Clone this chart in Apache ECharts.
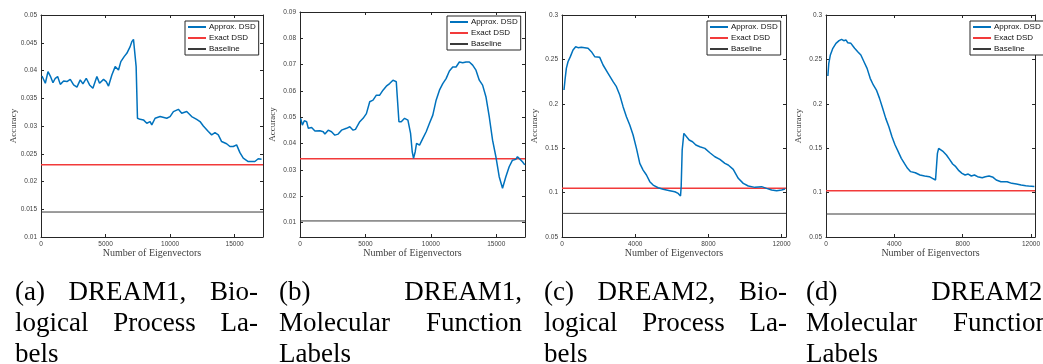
<!DOCTYPE html>
<html>
<head>
<meta charset="utf-8">
<script src="https://cdn.jsdelivr.net/npm/echarts@6/dist/echarts.min.js"></script>
<style>
  html, body { margin: 0; padding: 0; background: #fff; overflow: hidden; }
  #chart { position: absolute; left: 0; top: 0; width: 1043px; height: 364px; }
  .cap { position: absolute; top: 276px; width: 243px; font-family: "Liberation Serif", serif;
         font-size: 27px; line-height: 31px; color: #000; }
  .cap .j { text-align: justify; text-align-last: justify; }
</style>
</head>
<body>
<div id="chart"></div>
<div class="cap" style="left:15px"><div class="j">(a) DREAM1, Bio-</div><div class="j">logical Process La-</div><div>bels</div></div>
<div class="cap" style="left:279px"><div class="j">(b) DREAM1,</div><div class="j">Molecular Function</div><div>Labels</div></div>
<div class="cap" style="left:544px"><div class="j">(c) DREAM2, Bio-</div><div class="j">logical Process La-</div><div>bels</div></div>
<div class="cap" style="left:806px"><div class="j">(d) DREAM2,</div><div class="j">Molecular Function</div><div>Labels</div></div>
<script>
// Legend names
var names = ['Approx. DSD', 'Exact DSD', 'Baseline'];

// Approx. DSD curves, [number of eigenvectors, accuracy]
var approxA = [[77,0.0390],[335,0.0377],[541,0.0398],[722,0.0390],[928,0.0378],[1108,0.0386],[1289,0.0389],[1495,0.0375],[1753,0.0381],[2010,0.0380],[2268,0.0384],[2526,0.0374],[2784,0.0370],[3041,0.0383],[3247,0.0376],[3505,0.0386],[3763,0.0374],[4021,0.0368],[4330,0.0389],[4536,0.0377],[4845,0.0384],[5052,0.0380],[5232,0.0372],[5490,0.0392],[5747,0.0407],[6005,0.0401],[6186,0.0416],[6443,0.0425],[6649,0.0431],[6907,0.0443],[7036,0.0452],[7165,0.0456],[7294,0.0455],[7371,0.0407],[7474,0.0314],[7680,0.0312],[7938,0.0311],[8196,0.0305],[8454,0.0308],[8582,0.0302],[8840,0.0314],[9227,0.0317],[9742,0.0314],[10000,0.0317],[10258,0.0326],[10644,0.0330],[10902,0.0323],[11289,0.0326],[11675,0.0317],[12062,0.0312],[12320,0.0308],[12577,0.0300],[12964,0.0290],[13222,0.0284],[13479,0.0288],[13737,0.0284],[13995,0.0272],[14381,0.0268],[14639,0.0263],[14897,0.0263],[15155,0.0266],[15412,0.0252],[15670,0.0242],[16057,0.0236],[16572,0.0236],[16830,0.0241],[17088,0.0240]];
var approxB = [[51,0.0496],[178,0.0470],[330,0.0487],[508,0.0483],[635,0.0458],[888,0.0461],[1142,0.0448],[1523,0.0449],[1777,0.0445],[1904,0.0436],[2157,0.0451],[2411,0.0445],[2665,0.0432],[2919,0.0436],[3173,0.0451],[3554,0.0458],[3807,0.0464],[4061,0.0451],[4239,0.0454],[4569,0.0483],[4823,0.0496],[5076,0.0514],[5330,0.0559],[5584,0.0565],[5838,0.0584],[6092,0.0584],[6345,0.0603],[6599,0.0618],[6853,0.0628],[7107,0.0641],[7234,0.0647],[7360,0.0635],[7436,0.0578],[7563,0.0483],[7741,0.0483],[7995,0.0496],[8249,0.0489],[8401,0.0483],[8452,0.0439],[8579,0.0369],[8680,0.0344],[8807,0.0369],[8909,0.0401],[9137,0.0394],[9391,0.0420],[9645,0.0445],[9898,0.0477],[10152,0.0508],[10406,0.0565],[10660,0.0603],[10914,0.0628],[11168,0.0647],[11421,0.0676],[11675,0.0691],[11929,0.0691],[12183,0.0710],[12437,0.0707],[12690,0.0710],[12944,0.0710],[13198,0.0698],[13452,0.0679],[13706,0.0641],[13959,0.0622],[14213,0.0578],[14467,0.0502],[14721,0.0413],[14974,0.0350],[15228,0.0274],[15482,0.0230],[15609,0.0236],[15736,0.0274],[15990,0.0312],[16243,0.0337],[16497,0.0340],[16624,0.0350],[16827,0.0340],[17005,0.0331],[17183,0.0319]];
var approxC = [[109,0.2155],[164,0.2268],[237,0.2399],[328,0.2474],[456,0.2531],[602,0.2606],[748,0.2643],[875,0.2632],[1058,0.2636],[1240,0.2632],[1423,0.2625],[1605,0.2587],[1788,0.2531],[2061,0.2523],[2244,0.2437],[2517,0.2343],[2791,0.2249],[2973,0.2193],[3156,0.2099],[3338,0.1968],[3520,0.1855],[3703,0.1761],[3885,0.1649],[4068,0.1498],[4250,0.1329],[4432,0.1254],[4615,0.1198],[4797,0.1123],[4980,0.1085],[5253,0.1055],[5527,0.1037],[5892,0.1022],[6165,0.1010],[6348,0.0991],[6476,0.0962],[6512,0.1067],[6567,0.1480],[6658,0.1667],[6767,0.1649],[6950,0.1592],[7132,0.1573],[7314,0.1536],[7533,0.1517],[7807,0.1498],[8080,0.1449],[8354,0.1404],[8628,0.1374],[8901,0.1329],[9083,0.1311],[9357,0.1262],[9631,0.1161],[9904,0.1104],[10178,0.1074],[10543,0.1059],[10908,0.1067],[11181,0.1048],[11455,0.1029],[11728,0.1022],[12002,0.1029],[12184,0.1040]];
var approxD = [[109,0.2313],[164,0.2456],[255,0.2550],[401,0.2625],[583,0.2681],[765,0.2711],[911,0.2726],[1039,0.2711],[1166,0.2719],[1275,0.2688],[1458,0.2681],[1676,0.2625],[1858,0.2587],[2041,0.2550],[2223,0.2474],[2405,0.2399],[2587,0.2287],[2770,0.2212],[2952,0.2155],[3134,0.2061],[3316,0.1949],[3498,0.1836],[3681,0.1742],[3863,0.1630],[4045,0.1536],[4227,0.1461],[4409,0.1386],[4591,0.1329],[4774,0.1273],[4956,0.1236],[5229,0.1224],[5502,0.1198],[5776,0.1187],[6049,0.1179],[6231,0.1161],[6413,0.1142],[6468,0.1142],[6523,0.1442],[6596,0.1498],[6687,0.1480],[6869,0.1461],[7051,0.1423],[7233,0.1374],[7415,0.1322],[7598,0.1292],[7780,0.1247],[7962,0.1217],[8144,0.1198],[8326,0.1209],[8509,0.1187],[8691,0.1198],[8873,0.1179],[9146,0.1168],[9328,0.1179],[9547,0.1187],[9784,0.1172],[9966,0.1142],[10240,0.1123],[10604,0.1123],[10877,0.1104],[11151,0.1097],[11424,0.1085],[11697,0.1078],[11861,0.1074],[12200,0.1068]];

// Exact DSD and baseline levels per panel
var exactDSD = [0.0230, 0.0342, 0.1050, 0.1022];
var baseline = [0.0145, 0.0106, 0.0766, 0.0759];

// Axis ranges and ticks per panel
var xMax = [17200, 17200, 12240, 12240];
var yMin = [0.01, 0.0045, 0.05, 0.05];
var yMax = [0.05, 0.09, 0.3, 0.3];
var xTicksAB = [0, 5000, 10000, 15000];
var xTicksCD = [0, 4000, 8000, 12000];
var yTicksA = [0.01, 0.015, 0.02, 0.025, 0.03, 0.035, 0.04, 0.045, 0.05];
var yTicksB = [0.01, 0.02, 0.03, 0.04, 0.05, 0.06, 0.07, 0.08, 0.09];
var yTicksCD = [0.05, 0.1, 0.15, 0.2, 0.25, 0.3];

var approx = [approxA, approxB, approxC, approxD];
var xTicks = [xTicksAB, xTicksAB, xTicksCD, xTicksCD];
var yTicks = [yTicksA, yTicksB, yTicksCD, yTicksCD];

// panel boxes in pixels
var boxes = [
  {left: 41, top: 15, width: 222, height: 222},
  {left: 300, top: 12, width: 225, height: 225},
  {left: 562, top: 15, width: 224, height: 222},
  {left: 826, top: 15, width: 224, height: 222}
];
var legendPos = [{left: 185, top: 21}, {left: 447, top: 16}, {left: 707, top: 21}, {left: 970, top: 21}];

var axisColor = '#262626';
var tickFont = {fontFamily: 'Liberation Sans', fontSize: 6.5, color: '#404040'};
var nameFont = {fontFamily: 'Liberation Serif', fontSize: 10, color: '#404040'};

function plainNumber(v) {
  return String(v);
}

var myChart = echarts.init(document.getElementById('chart'), null, {renderer: 'canvas'});

var grids = [], xAxes = [], yAxes = [], series = [], legends = [];

for (var i = 0; i < 4; i++) {
  grids.push(Object.assign({containLabel: false}, boxes[i]));

  // bottom and top x axes
  xAxes.push({
    type: 'value', gridIndex: i, min: 0, max: xMax[i], position: 'bottom',
    name: 'Number of Eigenvectors', nameLocation: 'middle', nameGap: 11, nameMoveOverlap: false,
    nameTextStyle: nameFont,
    axisLine: {onZero: false, lineStyle: {color: axisColor, width: 1}},
    axisTick: {inside: true, length: 3, customValues: xTicks[i], lineStyle: {color: axisColor}},
    axisLabel: Object.assign({margin: 4, customValues: xTicks[i], formatter: plainNumber}, tickFont),
    splitLine: {show: false}
  });
  xAxes.push({
    type: 'value', gridIndex: i, min: 0, max: xMax[i], position: 'top',
    axisLine: {onZero: false, lineStyle: {color: axisColor, width: 1}},
    axisTick: {inside: true, length: 3, customValues: xTicks[i], lineStyle: {color: axisColor}},
    axisLabel: {show: false},
    splitLine: {show: false}
  });

  // left and right y axes
  yAxes.push({
    type: 'value', gridIndex: i, min: yMin[i], max: yMax[i], position: 'left',
    name: 'Accuracy', nameLocation: 'middle', nameGap: 23, nameMoveOverlap: false,
    nameTextStyle: {fontFamily: 'Liberation Serif', fontSize: 9, color: '#404040'},
    axisLine: {onZero: false, lineStyle: {color: axisColor, width: 1}},
    axisTick: {inside: true, length: 3, customValues: yTicks[i], lineStyle: {color: axisColor}},
    axisLabel: Object.assign({margin: 4, customValues: yTicks[i], formatter: plainNumber}, tickFont),
    splitLine: {show: false}
  });
  yAxes.push({
    type: 'value', gridIndex: i, min: yMin[i], max: yMax[i], position: 'right',
    axisLine: {onZero: false, lineStyle: {color: axisColor, width: 1}},
    axisTick: {inside: true, length: 3, customValues: yTicks[i], lineStyle: {color: axisColor}},
    axisLabel: {show: false},
    splitLine: {show: false}
  });

  var xi = i * 2, yi = i * 2;
  series.push({
    name: names[0], type: 'line', xAxisIndex: xi, yAxisIndex: yi,
    data: approx[i], showSymbol: false, symbol: 'none',
    lineStyle: {color: '#0072BD', width: 1.5}, itemStyle: {color: '#0072BD'}, z: 3
  });
  series.push({
    name: names[1], type: 'line', xAxisIndex: xi, yAxisIndex: yi,
    data: [[0, exactDSD[i]], [xMax[i], exactDSD[i]]], showSymbol: false, symbol: 'none',
    lineStyle: {color: '#f23a3a', width: 1.5}, itemStyle: {color: '#f23a3a'}, z: 2
  });
  series.push({
    name: names[2], type: 'line', xAxisIndex: xi, yAxisIndex: yi,
    data: [[0, baseline[i]], [xMax[i], baseline[i]]], showSymbol: false, symbol: 'none',
    lineStyle: {color: '#3a3a3a', width: 1}, itemStyle: {color: '#3a3a3a'}, z: 2
  });

  legends.push({
    data: names, orient: 'vertical', left: legendPos[i].left, top: legendPos[i].top,
    backgroundColor: '#fff', borderColor: axisColor, borderWidth: 1,
    padding: [1, 3, 1, 3], itemGap: 1, itemWidth: 18, itemHeight: 2, icon: 'rect',
    selectedMode: false,
    textStyle: {fontFamily: 'Liberation Sans', fontSize: 8, color: '#111', lineHeight: 10, padding: [0, 0, 0, -2]}
  });
}

var option = {
  animation: false,
  backgroundColor: '#fff',
  grid: grids,
  xAxis: xAxes,
  yAxis: yAxes,
  legend: legends,
  series: series
};

myChart.setOption(option);

window.onresize = function() {
  myChart.resize();
};
</script>
</body>
</html>
